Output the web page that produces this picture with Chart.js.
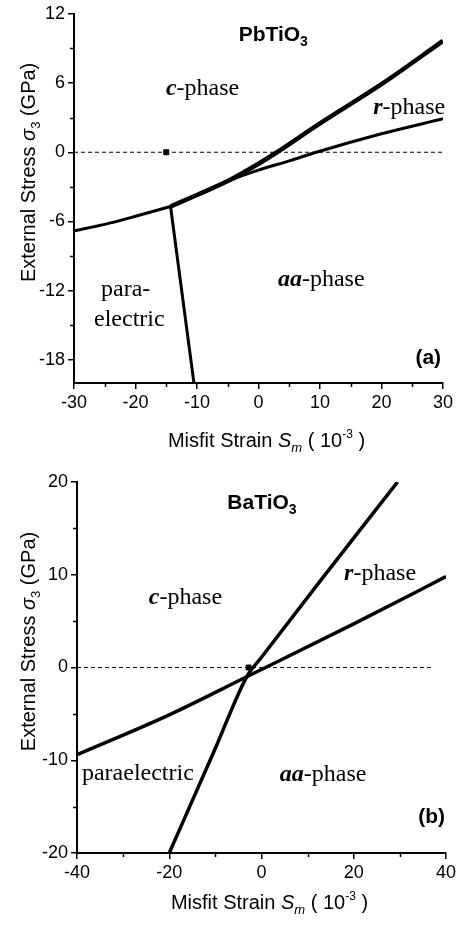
<!DOCTYPE html>
<html>
<head>
<meta charset="utf-8">
<script src="https://cdn.jsdelivr.net/npm/chart.js@4.4.1/dist/chart.umd.min.js"></script>
<style>
  body { margin: 0; background: #fff; }
  #wrap { position: relative; width: 461px; height: 929px; }
  .panel { position: absolute; left: 0; width: 461px; }
</style>
</head>
<body>
<div id="wrap">
  <div class="panel" style="top:0;height:460px"><canvas id="chartA"></canvas></div>
  <div class="panel" style="top:460px;height:469px"><canvas id="chartB"></canvas></div>
</div>
<script>
// ---- panel (a): PbTiO3 ----
const aCrX = [-14.3, -10, -5, 0, 3, 10, 20, 30];        // c / r boundary (thick)
const aCrY = [-4.7, -3.7, -2.5, -1.0, 0, 2.5, 5.9, 9.65];
const aRaX = [-8, -4, 0, 5, 9.4, 20, 30];               // r / aa boundary
const aRaY = [-3.2, -2.3, -1.55, -0.75, 0, 1.6, 2.9];
const aCpX = [-30, -25, -20, -14.3];                    // c / paraelectric
const aCpY = [-6.8, -6.25, -5.55, -4.7];
const aPaX = [-14.3, -10.5];                            // paraelectric / aa
const aPaY = [-4.7, -20];
const aZeroX = [-30, 30];
const aZeroY = [0, 0];
const aDotX = [-15];
const aDotY = [0];
const aXTicks = [-30, -20, -10, 0, 10, 20, 30];
const aXMinor = [-25, -15, -5, 5, 15, 25];
const aYTicks = [-18, -12, -6, 0, 6, 12];
const aYMinor = [-15, -9, -3, 3, 9];

// ---- panel (b): BaTiO3 ----
const bSteepX = [-20, -10, -3.2, 0, 13, 29.5];
const bSteepY = [-20, -8.7, -1.0, 1.1, 9.5, 20];
const bFlatX = [-40, -20, -3.2, 20, 40];
const bFlatY = [-9.4, -5.1, -1.0, 4.7, 9.8];
const bZeroX = [-40, 37.3];
const bZeroY = [0, 0];
const bDotX = [-2.8];
const bDotY = [0];
const bXTicks = [-40, -20, 0, 20, 40];
const bXMinor = [-30, -10, 10, 30];
const bYTicks = [-20, -10, 0, 10, 20];
const bYMinor = [-15, -5, 5, 15];

const SANS = '"Liberation Sans", Arial, sans-serif';
const SERIF = '"Liberation Serif", "Times New Roman", serif';

function pts(xs, ys) { return xs.map((x, i) => ({ x: x, y: ys[i] })); }

function boundary(xs, ys, w) {
  return { data: pts(xs, ys), showLine: true, borderColor: '#000', borderWidth: w,
           pointRadius: 0, cubicInterpolationMode: 'monotone', fill: false };
}
function dashed(xs, ys) {
  return { data: pts(xs, ys), showLine: true, borderColor: '#000', borderWidth: 1,
           borderDash: [4, 3], pointRadius: 0, fill: false };
}
function marker(xs, ys) {
  return { data: pts(xs, ys), showLine: false, pointStyle: 'rect', pointRadius: 3.5,
           backgroundColor: '#000', borderColor: '#000', borderWidth: 1 };
}

function phase(bold, rest) {
  return [[bold, 'italic bold 24px ' + SERIF, 0], [rest, '24px ' + SERIF, 0]];
}
function plain(t) { return [[t, '24px ' + SERIF, 0]]; }
function formula(t, sub) {
  return [[t, 'bold 21px ' + SANS, 0], [sub, 'bold 14px ' + SANS, 5]];
}
function tag(t) { return [[t, 'bold 21px ' + SANS, 0]]; }

function drawRich(ctx, parts, x, y) {
  let w = 0;
  parts.forEach(p => { ctx.font = p[1]; w += ctx.measureText(p[0]).width; });
  let cx = x - w / 2;
  parts.forEach(p => {
    ctx.font = p[1];
    ctx.fillText(p[0], cx, y + p[2]);
    cx += ctx.measureText(p[0]).width;
  });
}

const xTitle = [['Misfit Strain ', '20px ' + SANS, 0], ['S', 'italic 20px ' + SANS, 0],
                ['m', 'italic 13px ' + SANS, 5], [' ( 10', '20px ' + SANS, 0],
                ['-3', '12px ' + SANS, -9], [' )', '20px ' + SANS, 0]];
const yTitle = [['External Stress ', '20px ' + SANS, 0], ['σ', 'italic 20px ' + SANS, 0],
                ['3', '13px ' + SANS, 5], [' (GPa)', '20px ' + SANS, 0]];

// labels, minor ticks and axis titles
const decor = {
  id: 'decor',
  afterDraw(chart, args, opts) {
    const ctx = chart.ctx, xs = chart.scales.x, ys = chart.scales.y, a = chart.chartArea;
    ctx.save();
    ctx.fillStyle = '#000';
    ctx.strokeStyle = '#000';
    ctx.textBaseline = 'alphabetic';
    ctx.textAlign = 'left';
    ctx.lineWidth = 1.5;
    ctx.beginPath();
    opts.xMinor.forEach(v => {
      const px = Math.round(xs.getPixelForValue(v)) + 0.5;
      ctx.moveTo(px, a.bottom); ctx.lineTo(px, a.bottom + 4);
    });
    opts.yMinor.forEach(v => {
      const py = Math.round(ys.getPixelForValue(v)) + 0.5;
      ctx.moveTo(a.left, py); ctx.lineTo(a.left - 4, py);
    });
    ctx.stroke();
    opts.labels.forEach(l => {
      drawRich(ctx, l.parts, xs.getPixelForValue(l.x), ys.getPixelForValue(l.y));
    });
    drawRich(ctx, xTitle, (a.left + a.right) / 2 + 8, a.bottom + opts.xTitleGap);
    ctx.translate(35, (a.top + a.bottom) / 2 - 26);
    ctx.rotate(-Math.PI / 2);
    drawRich(ctx, yTitle, 0, 0);
    ctx.restore();
  }
};

function axis(min, max, ticks, size, vertical) {
  return {
    type: 'linear', min: min, max: max,
    afterBuildTicks: s => { s.ticks = ticks.map(v => ({ value: v })); },
    afterFit: s => { if (vertical) s.width = size; else s.height = size; },
    grid: { display: true, drawOnChartArea: false, drawTicks: true, tickLength: 6,
            color: '#000', lineWidth: 1.5 },
    border: { display: true, color: '#000', width: 2 },
    ticks: { color: '#000', padding: 3, font: { family: SANS, size: 18 } },
    title: { display: false }
  };
}

function makeChart(id, datasets, cfg) {
  return new Chart(document.getElementById(id), {
    type: 'scatter',
    data: { datasets: datasets },
    options: {
      responsive: true, maintainAspectRatio: false, animation: false, devicePixelRatio: 1,
      layout: { padding: cfg.padding },
      plugins: { legend: { display: false }, tooltip: { enabled: false }, decor: cfg.decor },
      scales: {
        x: axis(cfg.xMin, cfg.xMax, cfg.xTicks, cfg.xH, false),
        y: axis(cfg.yMin, cfg.yMax, cfg.yTicks, cfg.yW, true)
      }
    },
    plugins: [decor]
  });
}

makeChart('chartA', [
  dashed(aZeroX, aZeroY),
  boundary(aCpX, aCpY, 3),
  boundary(aPaX, aPaY, 3),
  boundary(aRaX, aRaY, 3),
  boundary(aCrX, aCrY, 4.5),
  marker(aDotX, aDotY)
], {
  padding: { top: 13, right: 18, left: 0, bottom: 0 },
  xMin: -30, xMax: 30, xTicks: aXTicks, xH: 77,
  yMin: -20, yMax: 12, yTicks: aYTicks, yW: 74,
  decor: {
    xMinor: aXMinor, yMinor: aYMinor, xTitleGap: 64,
    labels: [
      { x: 2.4, y: 9.65, parts: formula('PbTiO', '3') },
      { x: -9.1, y: 4.92, parts: phase('c', '-phase') },
      { x: 24.5, y: 3.35, parts: phase('r', '-phase') },
      { x: 10.2, y: -11.6, parts: phase('aa', '-phase') },
      { x: -21.6, y: -12.5, parts: plain('para-') },
      { x: -21.0, y: -15.1, parts: plain('electric') },
      { x: 27.6, y: -18.35, parts: tag('(a)') }
    ]
  }
});

makeChart('chartB', [
  dashed(bZeroX, bZeroY),
  boundary(bFlatX, bFlatY, 3.5),
  boundary(bSteepX, bSteepY, 3.5),
  marker(bDotX, bDotY)
], {
  padding: { top: 22, right: 15, left: 0, bottom: 0 },
  xMin: -40, xMax: 40, xTicks: bXTicks, xH: 76,
  yMin: -20, yMax: 20, yTicks: bYTicks, yW: 77,
  decor: {
    xMinor: bXMinor, yMinor: bYMinor, xTitleGap: 56,
    labels: [
      { x: 0.1, y: 17.1, parts: formula('BaTiO', '3') },
      { x: -16.5, y: 6.8, parts: phase('c', '-phase') },
      { x: 25.7, y: 9.4, parts: phase('r', '-phase') },
      { x: -26.8, y: -12.1, parts: plain('paraelectric') },
      { x: 13.35, y: -12.2, parts: phase('aa', '-phase') },
      { x: 36.9, y: -16.8, parts: tag('(b)') }
    ]
  }
});
</script>
</body>
</html>
